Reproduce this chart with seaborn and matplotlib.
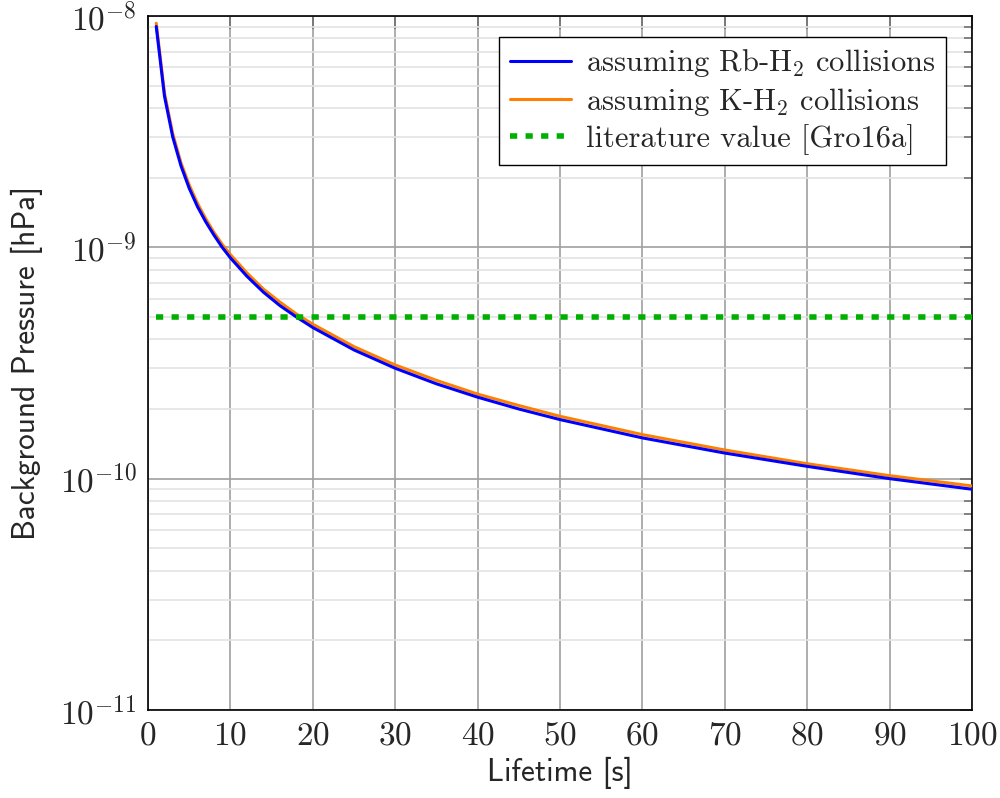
import numpy as np
import pandas as pd
import matplotlib
matplotlib.use("Agg")
import matplotlib.pyplot as plt
import seaborn as sns
from matplotlib.ticker import LogLocator, FixedLocator, NullFormatter

# Values
lifetime = [1, 2, 3, 4, 5, 6, 7, 8, 9, 10, 12, 14, 16, 18, 20, 25, 30, 35, 40,
            45, 50, 60, 70, 80, 90, 100]
p_rb = [9.0e-9, 4.5e-9, 3.0e-9, 2.25e-9, 1.8e-9, 1.5e-9, 1.29e-9, 1.13e-9,
        1.0e-9, 9.0e-10, 7.5e-10, 6.4e-10, 5.6e-10, 5.0e-10, 4.5e-10, 3.6e-10,
        3.0e-10, 2.57e-10, 2.25e-10, 2.0e-10, 1.8e-10, 1.5e-10, 1.29e-10,
        1.13e-10, 1.0e-10, 9.0e-11]
p_k = [9.3e-9, 4.65e-9, 3.1e-9, 2.32e-9, 1.86e-9, 1.55e-9, 1.33e-9, 1.16e-9,
       1.03e-9, 9.3e-10, 7.75e-10, 6.6e-10, 5.8e-10, 5.15e-10, 4.65e-10,
       3.72e-10, 3.1e-10, 2.66e-10, 2.32e-10, 2.07e-10, 1.86e-10, 1.55e-10,
       1.33e-10, 1.16e-10, 1.03e-10, 9.3e-11]
lit_x = [1, 100]
lit_p = [5e-10, 5e-10]

x_ticks = [0, 10, 20, 30, 40, 50, 60, 70, 80, 90, 100]
y_ticks = [1e-11, 1e-10, 1e-9, 1e-8]
y_ticklabels = [r"$10^{-11}$", r"$10^{-10}$", r"$10^{-9}$", r"$10^{-8}$"]

labels = [r"assuming Rb-H$_2$ collisions",
          r"assuming K-H$_2$ collisions",
          "literature value [Gro16a]"]

sns.set_theme(style="white")
plt.rcParams["mathtext.fontset"] = "cm"
plt.rcParams["font.family"] = ["cmr10", "DejaVu Serif"]
plt.rcParams["axes.unicode_minus"] = False

df = pd.DataFrame({"t": lifetime, "rb": p_rb, "k": p_k})

fig = plt.figure(figsize=(10, 7.98), dpi=100)
ax = fig.add_axes([0.148, 0.1103, 0.824, 0.8697])

sns.lineplot(data=df, x="t", y="rb", ax=ax, color="#0000ff", lw=2.2,
             label=labels[0], zorder=4)
sns.lineplot(data=df, x="t", y="k", ax=ax, color="#ff7f00", lw=2.2,
             label=labels[1], zorder=3)
sns.lineplot(x=lit_x, y=lit_p, ax=ax, color="#00b000", lw=4,
             linestyle=(0, (1.3, 1.5)), label=labels[2], zorder=5)

ax.set_yscale("log")
ax.set_xlim(0, 100)
ax.set_ylim(1e-11, 1e-8)

ax.xaxis.set_major_locator(FixedLocator(x_ticks))
ax.set_xticklabels([rf"${v}$" for v in x_ticks])
ax.set_yticks(y_ticks)
ax.set_yticklabels(y_ticklabels)
ax.yaxis.set_minor_locator(LogLocator(base=10, subs=np.arange(2, 10)))
ax.yaxis.set_minor_formatter(NullFormatter())

ax.grid(True, which="major", color="#a0a0a0", lw=1.2)
ax.grid(True, which="minor", axis="y", color="#e3e3e3", lw=1.2)
ax.set_axisbelow(True)

ax.tick_params(which="both", direction="in", top=True, right=True,
               color="#707070", labelsize=24, pad=8)
ax.tick_params(which="major", length=9, width=1.2)
ax.tick_params(which="minor", length=6, width=1.2)
for s in ax.spines.values():
    s.set_color("black")
    s.set_linewidth(1.2)

ax.set_xlabel("Lifetime [s]", fontsize=22.5, labelpad=5,
              family=["cmss10", "DejaVu Sans"])
ax.set_ylabel("Background Pressure [hPa]", fontsize=22.5, labelpad=12,
              family=["cmss10", "DejaVu Sans"])

leg = ax.legend(loc="upper right", bbox_to_anchor=(0.9685, 0.970),
                borderaxespad=0, fancybox=False, framealpha=1,
                edgecolor="black", prop={"family": ["cmr10", "DejaVu Serif"],
                                         "size": 22},
                handlelength=2.0, handletextpad=0.5, borderpad=0.35,
                labelspacing=0.2)
leg.get_frame().set_linewidth(1.0)

fig.savefig("out.png", dpi=100)
